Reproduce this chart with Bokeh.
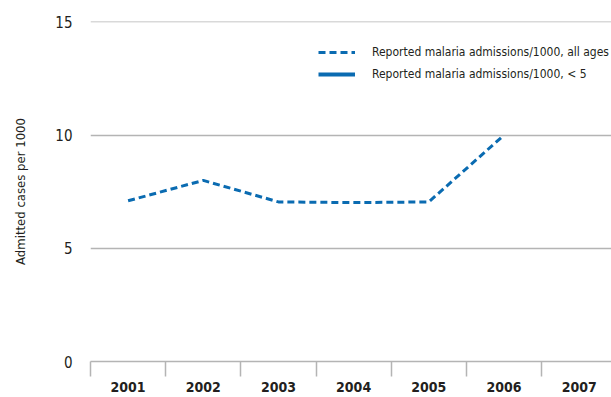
from bokeh.plotting import figure
from bokeh.models import FixedTicker, Legend, LegendItem, Range1d
from bokeh.embed import file_html
from bokeh.resources import INLINE

years = ["2001", "2002", "2003", "2004", "2005", "2006", "2007"]
all_ages = [7.1, 8.0, 7.05, 7.02, 7.05, 10.0]
under5 = [float("nan")] * 6
y_ticks = [0, 5, 10, 15]

FONT = "DejaVu Sans Condensed"
BLUE = "#0a6bb1"
GRID = "#b4b4b4"

xs_all = [i + 0.5 for i in range(len(all_ages))]
xs_u5 = [i + 0.5 for i in range(len(under5))]

p = figure(width=611, height=397, output_backend="svg", toolbar_location=None,
           x_range=Range1d(0, 6.93), y_range=Range1d(0, 15.02),
           min_border_left=90, min_border_right=0, min_border_top=21, min_border_bottom=36)
p.outline_line_color = None
p.background_fill_color = "white"
p.border_fill_color = "white"

r1 = p.line(xs_all, all_ages, line_color=BLUE, line_width=3, line_dash="7 4")
r2 = p.line(xs_u5, under5, line_color=BLUE, line_width=4)

# x axis
p.xaxis.ticker = FixedTicker(ticks=[i + 0.5 for i in range(len(years))],
                             minor_ticks=list(range(len(years) + 1)))
p.xaxis.major_label_overrides = {i + 0.5: y for i, y in enumerate(years)}
p.xaxis.major_tick_line_color = None
p.xaxis.minor_tick_line_color = GRID
p.xaxis.minor_tick_line_width = 1.5
p.xaxis.minor_tick_out = 15
p.xaxis.minor_tick_in = 0
p.xaxis.axis_line_color = GRID
p.xaxis.axis_line_width = 1.5
p.xaxis.major_label_text_font = FONT
p.xaxis.major_label_text_font_style = "bold"
p.xaxis.major_label_text_font_size = "14px"
p.xaxis.major_label_text_color = "#231f20"
p.xaxis.major_label_standoff = 5
p.xgrid.grid_line_color = None

# y axis
p.yaxis.ticker = FixedTicker(ticks=y_ticks)
p.yaxis.axis_line_color = None
p.yaxis.major_tick_line_color = None
p.yaxis.minor_tick_line_color = None
p.yaxis.major_label_text_font = FONT
p.yaxis.major_label_text_font_size = "15px"
p.yaxis.major_label_text_color = "#231f20"
p.yaxis.major_label_standoff = 12
p.yaxis.axis_label = "Admitted cases per 1000"
p.yaxis.axis_label_text_font = FONT
p.yaxis.axis_label_text_font_style = "normal"
p.yaxis.axis_label_text_font_size = "13px"
p.yaxis.axis_label_text_color = "#231f20"
p.yaxis.axis_label_standoff = 24
p.ygrid.grid_line_color = GRID
p.ygrid.grid_line_width = 1.5

legend = Legend(items=[
    LegendItem(label="Reported malaria admissions/1000, all ages", renderers=[r1]),
    LegendItem(label="Reported malaria admissions/1000, < 5", renderers=[r2]),
], location=(228, 276))
legend.border_line_color = None
legend.background_fill_alpha = 0
legend.padding = 0
legend.margin = 0
legend.spacing = 0
legend.glyph_width = 37
legend.glyph_height = 22
legend.label_height = 22
legend.label_standoff = 17
legend.label_text_font = FONT
legend.label_text_font_size = "12px"
legend.label_text_color = "#231f20"
p.add_layout(legend, "center")

open("out.html", "w").write(file_html(p, INLINE))
